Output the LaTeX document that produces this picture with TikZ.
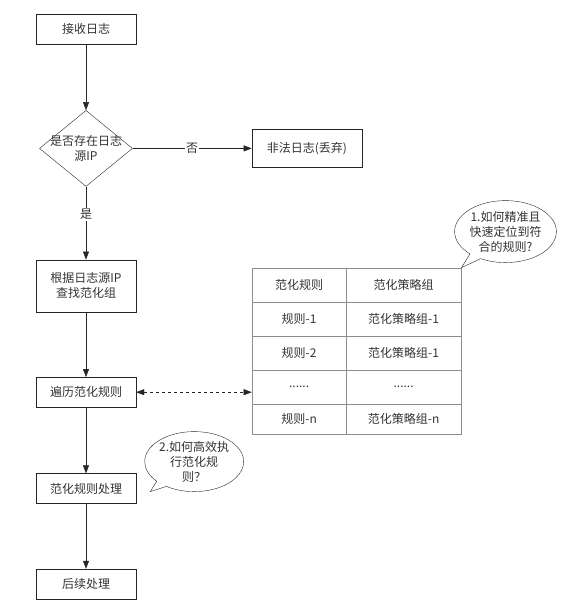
\documentclass[tikz,border=0pt]{standalone}
\usepackage{fontspec}
\setmainfont{Noto Sans CJK SC}
\usetikzlibrary{positioning,calc,shapes.geometric,shapes.callouts,arrows.meta,matrix}

\begin{document}
\begin{tikzpicture}[
		font=\fontsize{12pt}{15pt}\selectfont,
		text=black!80,
		flowbox/.style={minimum height=30pt,minimum width=100pt,draw=black!85,align=center,inner sep=2pt},
		tcell/.style={draw=black!45,minimum height=34pt,inner sep=0pt,anchor=center},
		bubble/.style={ellipse callout,draw=black!85,align=center,minimum width=94pt,minimum height=62pt,inner sep=0pt},
		arr/.style={-{Triangle[length=8pt,width=6pt]},draw=black!85},
		darr/.style={{Triangle[length=8pt,width=6pt]}-{Triangle[length=8pt,width=6pt]},draw=black!85,dashed},
	]
		\useasboundingbox (0,0) rectangle (581pt,-612pt);
		
		\node[flowbox] (recv) at (86pt,-29pt) {接收日志};
		
		\node[below=66pt of recv,diamond,draw=black!85,minimum width=93pt,minimum height=76pt,inner sep=0pt,label={[align=center]center:是否存在日志\\源IP}] (hasip) {};
		
		\node[right=119pt of hasip,flowbox,minimum width=110pt,minimum height=38pt] (drop) {非法日志(丢弃)};
		
		\node[below=73pt of hasip,flowbox,minimum height=52pt] (lookup) {根据日志源IP\\查找范化组};
		\node[below=65pt of lookup,flowbox] (iter) {遍历范化规则};
		\node[below=66pt of iter,flowbox] (proc) {范化规则处理};
		\node[below=65pt of proc,flowbox] (post) {后续处理};
		
		\matrix[below=100pt of drop.south west,anchor=north west,inner sep=0pt,matrix of nodes,nodes={tcell},column sep=-0.4pt,row sep=-0.4pt,
			column 1/.style={nodes={minimum width=94pt}},column 2/.style={nodes={minimum width=115pt}},
			row 5/.style={nodes={minimum height=30pt}}] (rules) {
			范化规则 & 范化策略组 \\
			规则-1 & 范化策略组-1 \\
			规则-2 & 范化策略组-1 \\
			...... & ...... \\
			规则-n & 范化策略组-n \\
		};
		
		\draw[arr] (recv)--(hasip);
		\draw[arr] (hasip)--node[fill=white,inner sep=1pt]{否}(drop);
		\draw[arr] (hasip)--node[pos=0.38,fill=white,inner sep=1pt]{是}(lookup);
		\draw[arr] (lookup)--(iter);
		\draw[arr] (iter)--(proc);
		\draw[arr] (proc)--(post);
		\draw[darr] (iter.east)--(iter.east -| rules.west);
		
		\node[bubble,callout absolute pointer={(rules.north east)},shift={(44pt,36pt)}] (q1) at (rules.north east) {1.如何精准且\\快速定位到符\\合的规则?};
		
		\coordinate[shift={(14pt,-3pt)}] (tip2) at (proc.east);
		\node[bubble,callout absolute pointer={(tip2)},minimum width=88pt,minimum height=60pt,shift={(58pt,27pt)}] (q2) at (proc.east) {2.如何高效执\\行范化规\\则？};
	\end{tikzpicture}
\end{document}
